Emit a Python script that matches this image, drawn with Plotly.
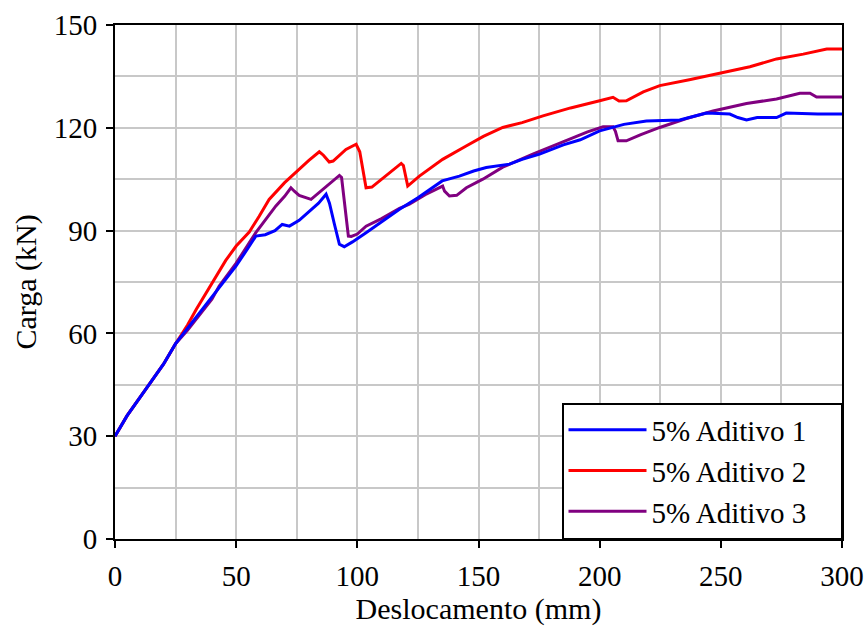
import plotly.graph_objects as go

# Data
aditivo1_x = [0, 5, 12, 20, 25, 30, 38.8, 45, 49.9, 55, 58.1, 62, 66, 69, 72, 76, 80, 84, 87.1, 88.5,
              90.5, 92.6, 94.6, 98, 103.6, 110, 117.4, 125, 130, 135, 142.1, 148, 153.2, 162.8, 168,
              175.2, 185, 192, 200, 210, 219.3, 233, 244.1, 253.7, 257, 260.6, 265, 273, 277, 290, 300]
aditivo1_y = [30, 36, 43, 51, 57, 61.5, 69.5, 75, 79.6, 85, 88.4, 88.8, 90, 91.8, 91.3, 93, 95.5, 98, 100.6, 98,
              92, 86, 85.3, 86.7, 89.4, 92.5, 96.2, 99.6, 102, 104.5, 105.9, 107.4, 108.4, 109.4, 110.8,
              112.3, 115, 116.5, 119.1, 121, 122, 122.3, 124.3, 124, 123, 122.3, 123, 123, 124.3, 124, 124]

aditivo2_x = [0, 5, 12, 20, 25, 30, 33.5, 39, 45.7, 50, 55.4, 59.5, 63.6, 70, 76, 80, 84.3, 86, 88.4, 90,
              95.3, 99.5, 101, 102.5, 103.6, 106, 110, 114, 118.1, 119, 120, 120.8, 125.6, 135.2, 144.9,
              152, 160, 168, 176.6, 188, 200, 205.5, 208, 211, 218, 224.8, 237, 249.6, 262, 273, 284, 293.7, 300]
aditivo2_y = [30, 36, 43, 51, 57, 62.5, 67, 73.6, 81.3, 85.5, 89.6, 94.2, 99.1, 104, 108, 110.5, 113, 112, 110, 110.3,
              113.7, 115.2, 113, 107, 102.5, 102.7, 105, 107.5, 109.6, 109, 105, 103, 105.9, 110.8, 114.7,
              117.5, 120.1, 121.5, 123.5, 125.8, 127.9, 128.9, 127.8, 127.9, 130.5, 132.3, 134, 135.9, 137.8, 140.1, 141.5, 143, 143]

aditivo3_x = [0, 5, 12, 20, 25, 30, 35, 40, 43, 50, 58.1, 62, 66.4, 70, 72.6, 74, 76, 80.9, 85, 90, 92.6, 93.5,
              95, 96.3, 97.5, 100, 103.6, 110, 117.4, 121.5, 128, 135.2, 136, 138, 141, 145, 151.8, 160,
              172.4, 180, 189, 195, 201.4, 205.5, 206.5, 207.6, 211, 217, 224.8, 235.8, 246.8, 255.1,
              260.6, 273, 282.6, 286.8, 289.5, 300]
aditivo3_y = [30, 36, 43, 51, 57, 61, 65.5, 70, 73.8, 80.5, 89.4, 93, 97.2, 100, 102.5, 101.5, 100.3, 99.1, 101.5, 104.5, 106.1, 105.5,
              96, 88.4, 88.3, 89, 91.3, 93.5, 96.5, 97.7, 100.5, 103, 101.5, 100.1, 100.3, 102.5, 105, 108.5,
              112.3, 114.5, 117.2, 118.8, 120.3, 120.3, 119, 116.2, 116.2, 118, 120.1, 122.7, 124.9, 126.2,
              127.1, 128.4, 130.1, 130.1, 129, 129]

series_names = ["5% Aditivo 1", "5% Aditivo 2", "5% Aditivo 3"]
series_colors = ["#0000FF", "#FF0000", "#800080"]

x_ticks = [0, 50, 100, 150, 200, 250, 300]
y_ticks = [0, 30, 60, 90, 120, 150]

FONT = "Liberation Serif, Times New Roman, serif"
PAD = "\u00a0" * 4  # right padding inside the legend box

fig = go.Figure()
data = [(aditivo2_x, aditivo2_y, 1), (aditivo3_x, aditivo3_y, 2), (aditivo1_x, aditivo1_y, 0)]
for xs, ys, i in data:
    fig.add_trace(go.Scatter(
        x=xs, y=ys, mode="lines", name=series_names[i] + PAD,
        line=dict(color=series_colors[i], width=3),
        legendrank=i + 1,
    ))

axis_common = dict(
    showline=True, linecolor="black", linewidth=2, mirror=True,
    ticks="outside", ticklen=7, tickwidth=2, tickcolor="black",
    showgrid=True, gridcolor="#c8c8c8", gridwidth=2, zeroline=False,
    tickfont=dict(family=FONT, size=29, color="black"),
    automargin=False, ticklabelstandoff=3,
)

fig.update_xaxes(
    range=[0, 300], tickvals=x_ticks,
    minor=dict(dtick=25, showgrid=True, gridcolor="#c8c8c8", gridwidth=2, ticks=""),
    title=dict(text="Deslocamento (mm)", font=dict(family=FONT, size=30, color="black"), standoff=6),
    **axis_common,
)
fig.update_yaxes(
    range=[0, 150], tickvals=y_ticks,
    minor=dict(dtick=15, showgrid=True, gridcolor="#c8c8c8", gridwidth=2, ticks=""),
    title=dict(text="Carga (kN)", font=dict(family=FONT, size=30, color="black"), standoff=8),
    **axis_common,
)

fig.update_layout(
    width=868, height=631,
    margin=dict(l=115, r=26, t=25, b=92),
    plot_bgcolor="white", paper_bgcolor="white",
    font=dict(family=FONT, color="black"),
    legend=dict(
        x=1, y=0, xanchor="right", yanchor="bottom",
        bgcolor="white", bordercolor="black", borderwidth=1.5,
        font=dict(family=FONT, size=29, color="black"),
        traceorder="normal", itemwidth=78,
    ),
    showlegend=True,
)

fig.write_html("out.html", config={"displayModeBar": False},
               post_script="document.body.style.margin='0';document.body.style.padding='0';")
